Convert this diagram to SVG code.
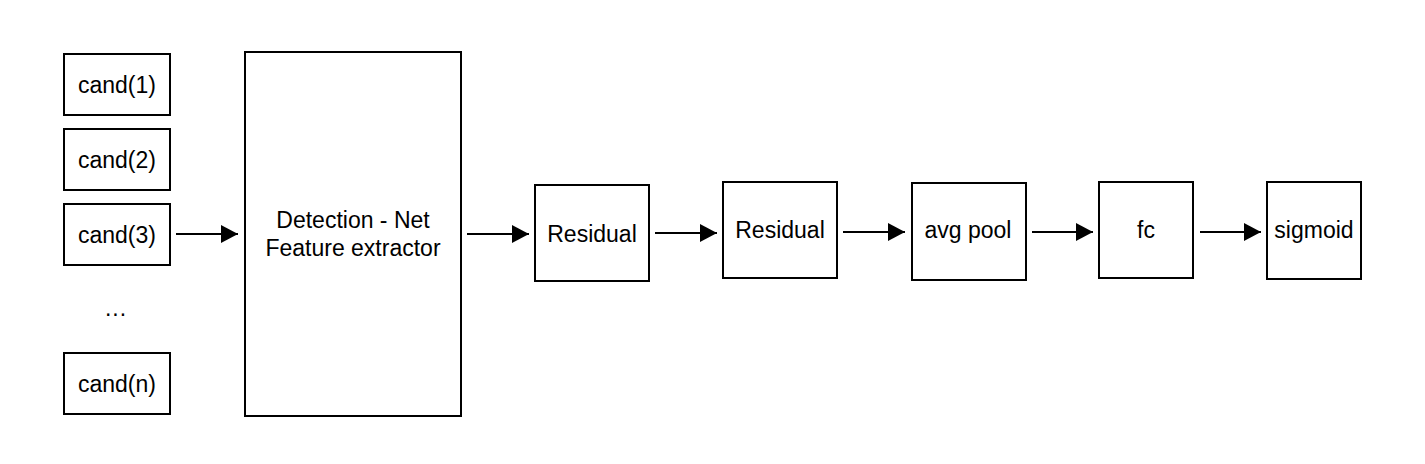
<svg xmlns="http://www.w3.org/2000/svg" width="1425" height="464" viewBox="0 0 1425 464">
<defs>
<style>
.box{fill:#fff;stroke:#000;stroke-width:2}
.t{font-family:"Liberation Sans",Arial,sans-serif;font-size:23px;fill:#000;text-anchor:middle}
.c{stroke:#000;stroke-width:2;fill:none}
</style>
<marker id="ah" markerWidth="17" markerHeight="18" refX="17" refY="9" orient="auto" markerUnits="userSpaceOnUse">
<path d="M0,0 L17,9 L0,18 Z" fill="#000"/>
</marker>
</defs>
<rect width="1425" height="464" fill="#fff"/>
<g id="cand1"><rect class="box" x="64" y="54" width="106" height="61"/><text class="t" x="117" y="93">cand(1)</text></g>
<g id="cand2"><rect class="box" x="64" y="129" width="106" height="61"/><text class="t" x="117" y="168">cand(2)</text></g>
<g id="cand3"><rect class="box" x="64" y="204" width="106" height="61"/><text class="t" x="117" y="243">cand(3)</text></g>
<g id="dots"><text class="t" x="116" y="316" letter-spacing="1">...</text></g>
<g id="candn"><rect class="box" x="64" y="353" width="106" height="61"/><text class="t" x="117" y="392">cand(n)</text></g>
<g id="detection"><rect class="box" x="245" y="52" width="216" height="364"/><text class="t" x="353" y="228">Detection - Net</text><text class="t" x="353" y="256">Feature extractor</text></g>
<g id="residual1"><rect class="box" x="535" y="185" width="114" height="96"/><text class="t" x="592" y="242">Residual</text></g>
<g id="residual2"><rect class="box" x="723" y="182" width="114" height="96"/><text class="t" x="780" y="238">Residual</text></g>
<g id="avgpool"><rect class="box" x="912" y="183" width="114" height="97"/><text class="t" x="968" y="238">avg pool</text></g>
<g id="fc"><rect class="box" x="1099" y="182" width="94" height="96"/><text class="t" x="1146" y="238">fc</text></g>
<g id="sigmoid"><rect class="box" x="1267" y="182" width="94" height="97"/><text class="t" x="1314" y="238">sigmoid</text></g>
<g id="connectors">
<line class="c" x1="176" y1="234" x2="238" y2="234" marker-end="url(#ah)"/>
<line class="c" x1="467" y1="234" x2="529" y2="234" marker-end="url(#ah)"/>
<line class="c" x1="655" y1="233" x2="717" y2="233" marker-end="url(#ah)"/>
<line class="c" x1="843" y1="232" x2="905" y2="232" marker-end="url(#ah)"/>
<line class="c" x1="1032" y1="232" x2="1093" y2="232" marker-end="url(#ah)"/>
<line class="c" x1="1200" y1="232" x2="1261" y2="232" marker-end="url(#ah)"/>
</g>
</svg>
